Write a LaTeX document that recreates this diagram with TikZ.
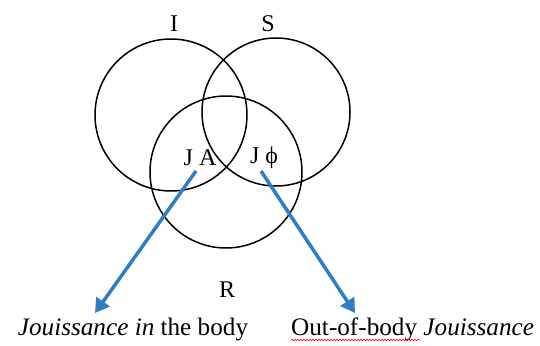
\documentclass[tikz,border=0pt]{standalone}
\usepackage{fontspec}
\setmainfont{Liberation Serif}
\usetikzlibrary{arrows.meta,decorations.pathmorphing}
\definecolor{arrowblue}{HTML}{2F7EC1}
\begin{document}
\begin{tikzpicture}[x=1pt,y=-1pt,
  ring/.style={draw=black,line width=1.5pt},
  lbl/.style={font=\fontsize{24}{28}\selectfont,inner sep=0pt},
  caption/.style={font=\fontsize{25.2}{30}\selectfont,inner sep=0pt},
  pointer/.style={draw=arrowblue,line width=3.5pt,-{Triangle[length=14pt,width=16pt]}}]
\useasboundingbox (0,0) rectangle (540,345);
\draw[ring] (171,115) circle (76);
\draw[ring] (276,112) circle (74);
\draw[ring] (226,172) circle (76);
\node[lbl] (I) at (174,24) {I};
\node[lbl] (S) at (268,24) {S};
\node[lbl] (JA) at (200,158) {J A};
\node[lbl] (Jphi) at (264,158) {J ϕ};
\node[lbl] (R) at (227,290) {R};
\node[caption,anchor=base] (inbody) at (133,335) {\textit{Jouissance in} the body};
\node[caption,anchor=base west] (outbody) at (291,335) {Out-of-body \textit{Jouissance}};
\coordinate (a1) at (196,171);
\coordinate (a2) at (95,313);
\coordinate (b1) at (261,171);
\coordinate (b2) at (355,313);
\draw[pointer] (a1) -- (a2);
\draw[pointer] (b1) -- (b2);
\coordinate (w1) at (291,340);
\coordinate (w2) at (420,340);
\draw[red,line width=0.6pt,decorate,decoration={snake,amplitude=0.8pt,segment length=3pt}] (w1) -- (w2);
\end{tikzpicture}
\end{document}
